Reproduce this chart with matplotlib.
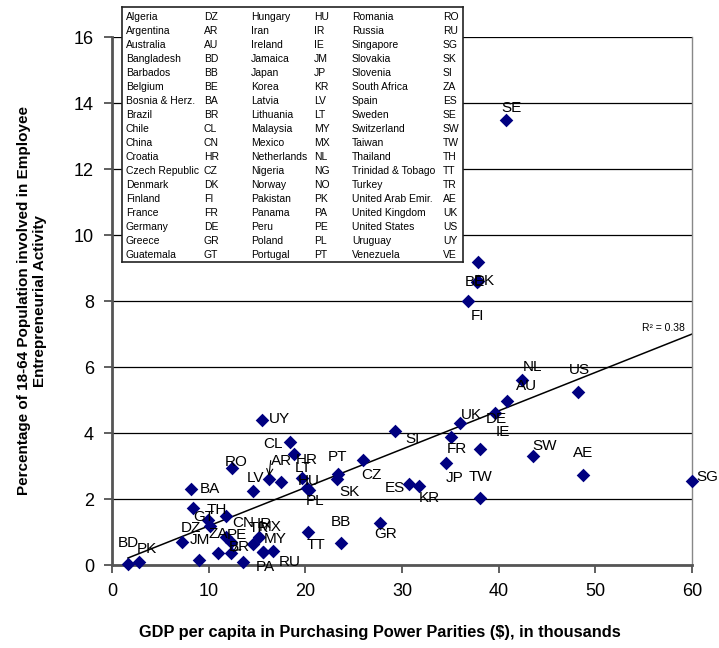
import numpy as np
import matplotlib
matplotlib.use("Agg")
import matplotlib.pyplot as plt

plt.rcParams["font.family"] = ["Liberation Sans", "DejaVu Sans"]

# country codes, GDP per capita (thousands $ PPP) and employee entrepreneurial activity (%)
codes = ["SE", "", "BE", "DK", "FI", "NL", "AU", "US", "DE", "UK",
         "IE", "FR", "JP", "TW", "SW", "AE", "SG", "SI", "CZ", "PT",
         "SK", "ES", "KR", "GR", "BB", "TT", "UY", "", "HR", "CL",
         "AR", "RO", "BA", "LV", "LT", "HU", "PL", "BD", "PK", "JM",
         "", "TH", "GT", "DZ", "CN", "ZA", "PE", "BR", "", "PA",
         "IR", "TR", "MX", "MY", "RU"]
gdp = [40.8, 37.85, 37.8, 37.9, 36.8, 42.45, 40.9, 48.25, 39.6, 36.05,
       38.1, 35.1, 34.5, 38.1, 43.6, 48.7, 60.0, 29.3, 26.0, 23.4,
       23.3, 30.7, 31.8, 27.7, 23.7, 20.3, 15.5, 18.4, 18.85, 16.2,
       17.5, 12.4, 8.2, 14.55, 19.7, 20.2, 20.4, 1.65, 2.75, 7.25,
       9.05, 8.4, 9.9, 10.1, 11.8, 11.8, 12.3, 12.3, 11.0, 13.6,
       15.2, 14.6, 15.6, 16.7, 15.6]
eea = [13.5, 9.17, 8.59, 8.6, 8.0, 5.62, 4.96, 5.24, 4.61, 4.29,
       3.52, 3.88, 3.09, 2.03, 3.29, 2.74, 2.55, 4.07, 3.17, 2.76,
       2.61, 2.45, 2.38, 1.27, 0.66, 1.01, 4.38, 3.72, 3.37, 2.61,
       2.53, 2.94, 2.30, 2.23, 2.64, 2.33, 2.28, 0.02, 0.1, 0.69,
       0.14, 1.74, 1.37, 1.17, 1.47, 0.86, 0.71, 0.36, 0.36, 0.1,
       0.86, 0.64, 0.4, 0.43, 0.4]

# linear trend
trend_slope = 0.1163
trend_intercept = 0.02
r_squared = 0.38

# legend table (country, code) in three column pairs
legend_names = [
    ["Algeria", "Argentina", "Australia", "Bangladesh", "Barbados", "Belgium",
     "Bosnia & Herz.", "Brazil", "Chile", "China", "Croatia", "Czech Republic",
     "Denmark", "Finland", "France", "Germany", "Greece", "Guatemala"],
    ["Hungary", "Iran", "Ireland", "Jamaica", "Japan", "Korea", "Latvia",
     "Lithuania", "Malaysia", "Mexico", "Netherlands", "Nigeria", "Norway",
     "Pakistan", "Panama", "Peru", "Poland", "Portugal"],
    ["Romania", "Russia", "Singapore", "Slovakia", "Slovenia", "South Africa",
     "Spain", "Sweden", "Switzerland", "Taiwan", "Thailand", "Trinidad & Tobago",
     "Turkey", "United Arab Emir.", "United Kingdom", "United States", "Uruguay",
     "Venezuela"],
]
legend_codes = [
    ["DZ", "AR", "AU", "BD", "BB", "BE", "BA", "BR", "CL", "CN", "HR", "CZ",
     "DK", "FI", "FR", "DE", "GR", "GT"],
    ["HU", "IR", "IE", "JM", "JP", "KR", "LV", "LT", "MY", "MX", "NL", "NG",
     "NO", "PK", "PA", "PE", "PL", "PT"],
    ["RO", "RU", "SG", "SK", "SI", "ZA", "ES", "SE", "SW", "TW", "TH", "TT",
     "TR", "AE", "UK", "US", "UY", "VE"],
]

# label offsets in pixels (dx, dy) for each point
label_offsets = {
    "SE": (5, 12), "BE": (-3, 0), "DK": (6, 0), "FI": (10, -15), "NL": (10, 13),
    "AU": (19, 15), "US": (1, 22), "DE": (2, -6), "UK": (11, 8), "IE": (23, 17),
    "FR": (6, -12), "JP": (9, -15), "TW": (0, 21), "SW": (11, 10), "AE": (0, 22),
    "SG": (15, 4), "SI": (17, -8), "CZ": (8, -15), "PT": (-1, 17), "SK": (12, -13),
    "ES": (-14, -4), "KR": (10, -12), "GR": (6, -11), "BB": (0, 21), "TT": (8, -13),
    "UY": (18, 1), "HR": (13, -6), "CL": (4, 35), "AR": (0, 21), "RO": (4, 6),
    "BA": (19, 0), "LV": (3, 13), "LT": (1, 10), "HU": (1, 7), "PL": (6, -11),
    "BD": (0, 21), "PK": (8, 13), "JM": (18, 2), "TH": (24, -2), "GT": (-4, 3),
    "DZ": (-19, -2), "CN": (17, -7), "ZA": (-8, 3), "PE": (6, 7), "BR": (8, 6),
    "PA": (22, -5), "IR": (5, 13), "TR": (6, 16), "MX": (7, 25), "MY": (2, 12),
    "RU": (27, -10),
}
arrow_codes = ["CL", "BR"]

fig = plt.figure(figsize=(7.19, 6.48), dpi=100)
ax = fig.add_axes([112 / 719, 1 - 565 / 648, 580 / 719, 528 / 648])

ax.set_xlim(0, 60)
ax.set_ylim(0, 16)
ax.set_xticks(np.arange(0, 61, 10))
ax.set_yticks(np.arange(0, 17, 2))
ax.tick_params(labelsize=13, length=6, width=1.2, color="#444444", pad=7)
ax.yaxis.grid(True, color="black", linewidth=0.9)
ax.set_axisbelow(True)

for side in ["left", "bottom"]:
    ax.spines[side].set_color("#555555")
    ax.spines[side].set_linewidth(2)
ax.spines["right"].set_color("#888888")
ax.spines["right"].set_linewidth(1)
ax.spines["top"].set_visible(False)

# trend line over the data range
xs = np.array([min(gdp), max(gdp)])
ax.plot(xs, trend_slope * xs + trend_intercept, color="black", lw=1.1, zorder=2)
ax.text(59.3, trend_slope * 59.3 + trend_intercept + 0.12, "R² = %0.2f" % r_squared,
        fontsize=7.5, ha="right", va="bottom")

ax.scatter(gdp, eea, marker="D", s=48, color="#000080", zorder=3, clip_on=False,
           linewidths=0)

for c, x, y in zip(codes, gdp, eea):
    if not c:
        continue
    dx, dy = label_offsets.get(c, (12, 0))
    if c in arrow_codes:
        ax.annotate(c, (x, y), xytext=(dx, dy), textcoords="offset pixels",
                    ha="center", va="center", fontsize=11,
                    arrowprops=dict(arrowstyle="->", color="black", lw=0.8,
                                    shrinkA=5, shrinkB=2))
    else:
        ax.annotate(c, (x, y), xytext=(dx, dy), textcoords="offset pixels",
                    ha="center", va="center", fontsize=11, zorder=4)

fig.text(380 / 719, 1 - 633 / 648,
         "GDP per capita in Purchasing Power Parities ($), in thousands",
         ha="center", va="center", fontsize=11.8, fontweight="bold")
fig.text(32 / 719, 1 - 301 / 648,
         "Percentage of 18-64 Population involved in Employee\nEntrepreneurial Activity",
         ha="center", va="center", rotation=90, fontsize=11, fontweight="bold",
         multialignment="center")

# legend table box
lax = fig.add_axes([122 / 719, 1 - 262 / 648, 341 / 719, 255 / 648])
lax.set_xlim(0, 341)
lax.set_ylim(255, 0)
lax.set_xticks([])
lax.set_yticks([])
for s in lax.spines.values():
    s.set_linewidth(1.2)
    s.set_color("#222222")
name_x = [4, 129, 230]
code_x = [82, 192, 321]
for col in range(3):
    for row, (n, c) in enumerate(zip(legend_names[col], legend_codes[col])):
        yy = 10 + row * 14.0
        lax.text(name_x[col], yy, n, fontsize=7.5, va="center", ha="left")
        lax.text(code_x[col], yy, c, fontsize=7.5, va="center", ha="left")

fig.savefig("out.png", dpi=100)
